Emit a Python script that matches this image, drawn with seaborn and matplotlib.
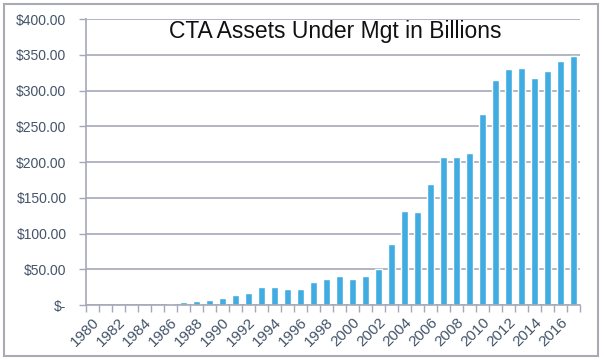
import matplotlib

matplotlib.use("Agg")

import matplotlib.pyplot as plt
import matplotlib.ticker as mticker
import pandas as pd
import seaborn as sns
from matplotlib.patches import Rectangle

years = list(range(1980, 2018))
assets = [
    0.0, 0.0, 0.0, 0.0, 0.0, 0.0, 2.0, 3.5, 5.0, 6.5,
    10.0, 14.5, 17.3, 24.7, 24.7, 22.0, 23.0, 32.7, 36.0, 40.0,
    37.0, 40.0, 50.0, 86.0, 131.0, 129.7, 169.0, 207.0, 207.0, 212.6,
    267.0, 314.5, 329.5, 331.0, 317.4, 326.8, 340.6, 347.6,
]
title = "CTA Assets Under Mgt in Billions"

df = pd.DataFrame({"year": years, "assets": assets})

sns.set_theme(style="white")
plt.rcParams["font.family"] = ["Liberation Sans", "DejaVu Sans"]

fig = plt.figure(figsize=(6.04, 3.63), dpi=100)
ax = fig.add_axes([86 / 604, 1 - 305 / 363, 494 / 604, 286 / 363])

sns.barplot(data=df, x="year", y="assets", color="#41ACE2", saturation=1,
            width=0.5, ax=ax)

grid_color = "#A5A8B8"
label_color = "#44546A"

ax.set_ylim(0, 400)
ax.set_xlim(-0.5, len(years) - 0.5)
ax.yaxis.set_major_locator(mticker.MultipleLocator(50))
ax.yaxis.set_major_formatter(
    mticker.FuncFormatter(lambda v, p: "$-" if v == 0 else f"${v:,.2f}"))
ax.yaxis.grid(True, color=grid_color, linewidth=1.2)
ax.set_axisbelow(True)

ax.set_xticks(range(0, len(years), 2))
ax.set_xticklabels([str(y) for y in years[::2]], rotation=45, ha="right",
                   rotation_mode="anchor")
ax.set_xticks([i - 0.5 for i in range(len(years) + 1)], minor=True)
ax.tick_params(axis="x", which="major", length=0, pad=7, labelsize=11,
               labelcolor=label_color)
ax.tick_params(axis="x", which="minor", length=5, width=1, color=grid_color,
               direction="out", bottom=True)
ax.tick_params(axis="y", length=5, width=1, color=grid_color, left=True,
               labelsize=10, labelcolor=label_color, pad=9)

for side in ["top", "right"]:
    ax.spines[side].set_visible(False)
for side in ["left", "bottom"]:
    ax.spines[side].set_color(grid_color)
    ax.spines[side].set_linewidth(1.2)

ax.set_xlabel("")
ax.set_ylabel("")
ax.text(0.505, 0.955, title, transform=ax.transAxes, ha="center", va="center",
        fontsize=16.5, color="#111111")

fig.patches.append(Rectangle((4 / 604, 1 - 356 / 363), 594 / 604, 352 / 363,
                             transform=fig.transFigure, fill=False,
                             edgecolor="#A9AAB4", linewidth=1.5))

fig.savefig("out.png", dpi=100, facecolor="white")
